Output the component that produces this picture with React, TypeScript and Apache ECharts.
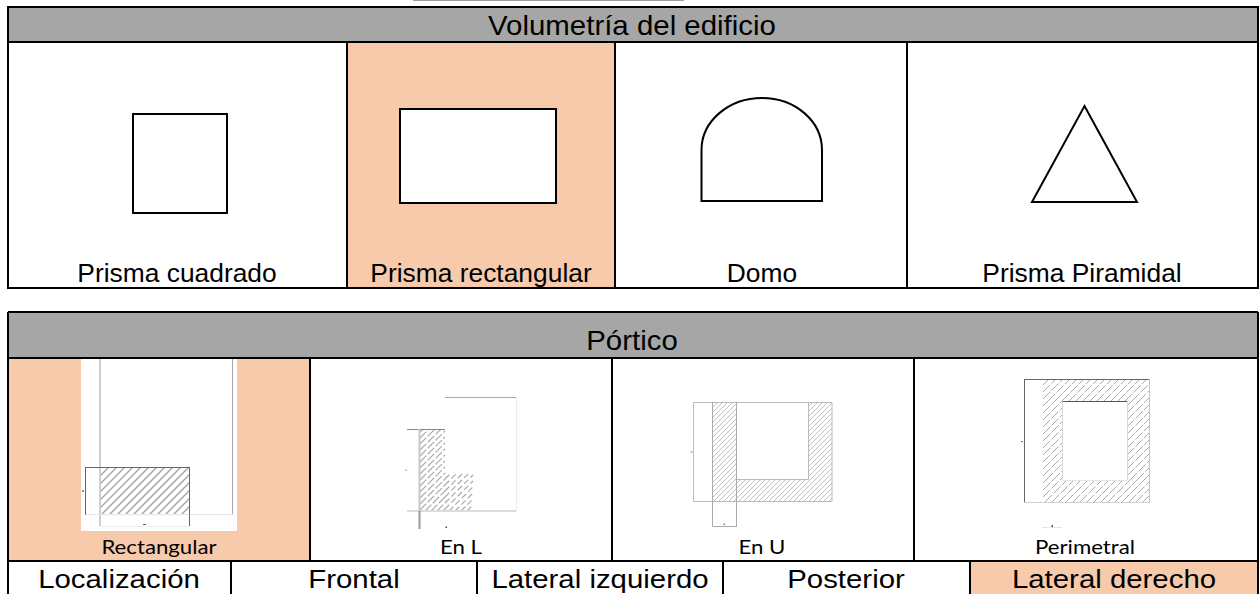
import React, { useEffect, useRef } from "react";
import * as echarts from "echarts";

const topTitle = "Volumetría del edificio";
const topLabels = ["Prisma cuadrado", "Prisma rectangular", "Domo", "Prisma Piramidal"];
const midTitle = "Pórtico";
const midLabels = ["Rectangular", "En L", "En U", "Perimetral"];
const locLabels = ["Localización", "Frontal", "Lateral izquierdo", "Posterior", "Lateral derecho"];

const GREY = "#a6a6a6";
const PEACH = "#f7caac";
const SANS = "'Liberation Sans', Arial, sans-serif";
const CAL = "Lato, 'Open Sans', sans-serif";

const rect = (x0: number, y0: number, x1: number, y1: number, fill: string, stroke = "none", lw = 0): any => ({
  type: "rect",
  shape: { x: x0, y: y0, width: x1 - x0, height: y1 - y0 },
  style: { fill, stroke, lineWidth: lw },
});
const line = (x1: number, y1: number, x2: number, y2: number, stroke: string, lw = 1, dash?: number[]): any => ({
  type: "line",
  shape: { x1, y1, x2, y2 },
  style: { stroke, lineWidth: lw, fill: "none", lineDash: dash },
});
const text = (s: string, x: number, y: number, size: number, family: string, sx = 1): any => ({
  type: "text",
  x,
  y,
  scaleX: sx,
  style: {
    text: s,
    x: 0,
    y: 0,
    fill: "#000",
    fontSize: size,
    fontFamily: family,
    textAlign: "center",
    textVerticalAlign: "middle",
  },
});
// 45 degree hatch clipped to a box, with a phase shared across neighbouring boxes
const hatch = (x0: number, y0: number, x1: number, y1: number, gap: number, stroke: string, lw = 1, dash?: number[]) => {
  const out: any[] = [];
  for (let c = Math.ceil((x0 + y0) / gap) * gap; c <= x1 + y1; c += gap) {
    const ax = Math.max(x0, c - y1);
    const bx = Math.min(x1, c - y0);
    if (bx > ax) out.push(line(ax, c - ax, bx, c - bx, stroke, lw, dash));
  }
  return out;
};

const T1 = { l: 8, r: 1258, t: 7, h: 42, b: 288, cols: [347, 615, 907] };
const T2 = { l: 8, r: 1258, t: 312, h: 358, b: 561, cols: [310, 612, 914], loc: [231, 477, 723, 970] };

function buildElements() {
  const e: any[] = [];
  e.push(rect(0, 0, 1259, 594, "#fff"));
  e.push(rect(413, 0, 684, 1, "#a0a0a0"));

  // top table
  e.push(rect(T1.l, T1.t, T1.r, T1.h, GREY));
  e.push(rect(T1.cols[0], T1.h, T1.cols[1], T1.b, PEACH));
  e.push(rect(133, 114, 227, 213, "#fff", "#000", 2));
  e.push(rect(400, 109, 556, 203, "#fff", "#000", 2));
  e.push({
    type: "bezierCurve",
    shape: { x1: 701.5, y1: 150, x2: 762, y2: 98, cpx1: 701.5, cpy1: 121, cpx2: 729, cpy2: 98 },
    style: { stroke: "#000", lineWidth: 2, fill: "none" },
  });
  e.push({
    type: "bezierCurve",
    shape: { x1: 762, y1: 98, x2: 822, y2: 150, cpx1: 795, cpy1: 98, cpx2: 822, cpy2: 121 },
    style: { stroke: "#000", lineWidth: 2, fill: "none" },
  });
  e.push({
    type: "polyline",
    shape: { points: [[701.5, 150], [701.5, 201], [822, 201], [822, 150]] },
    style: { stroke: "#000", lineWidth: 2, fill: "none" },
  });
  e.push({
    type: "polygon",
    shape: { points: [[1084.5, 106], [1137, 202], [1032, 202]] },
    style: { stroke: "#000", lineWidth: 2, fill: "#fff" },
  });
  e.push(rect(T1.l, T1.t, T1.r, T1.b, "none", "#000", 2));
  e.push(line(T1.l, T1.h, T1.r, T1.h, "#000", 2));
  T1.cols.forEach((x) => e.push(line(x, T1.h, x, T1.b, "#000", 2)));
  e.push(text(topTitle, 632, 25, 27, SANS, 1.09));
  const topX = [177, 481, 762, 1082];
  topLabels.forEach((s, i) => e.push(text(s, topX[i], 273, 25.5, SANS, 1.035)));

  // portico table
  e.push(rect(T2.l, T2.t, T2.r, T2.h, GREY));
  e.push(rect(T2.l, T2.h, T2.cols[0], T2.b, PEACH));
  e.push(rect(T2.loc[3], T2.b, T2.r, 594, PEACH));

  // rectangular sketch
  e.push(rect(81, 358, 237, 531, "#fff"));
  e.push(...hatch(100, 467, 190, 514, 8, "#a8a8a8", 1.5));
  e.push(line(100, 358, 100, 526, "#cfcfcf", 2));
  e.push(line(232.5, 358, 232.5, 514, "#a8a8a8", 1));
  e.push(line(85, 514.5, 233, 514.5, "#e6e6e6", 1));
  e.push(line(100, 526.5, 190, 526.5, "#eeeeee", 1));
  e.push(line(85, 467.5, 190, 467.5, "#666", 1));
  e.push(line(85.5, 467, 85.5, 515, "#666", 1));
  e.push(line(189.5, 467, 189.5, 526, "#666", 1));
  e.push(rect(82, 490, 84, 492, "#5b9bd5"));
  e.push(rect(143, 524, 146, 525, "#555"));

  // L sketch
  e.push(...hatch(420, 429, 445, 511, 6, "#aaaaaa", 1.2, [9, 2]));
  e.push(...hatch(445, 474, 473, 511, 6, "#aaaaaa", 1.2, [6, 3]));
  e.push(line(445, 397.5, 516, 397.5, "#a8a8a8", 1));
  e.push(line(516.5, 397, 516.5, 511, "#ececec", 1));
  e.push(line(407, 511, 516, 511, "#dcdcdc", 2));
  e.push(line(407, 429.5, 445, 429.5, "#888", 1));
  e.push(line(419.5, 429, 419.5, 511, "#c8c8c8", 2));
  e.push(line(419.5, 511, 419.5, 529, "#999", 2));
  e.push(rect(405.5, 469.5, 406.5, 471, "#777"));
  e.push(rect(445.5, 526.5, 447, 528, "#444"));

  // U sketch
  e.push(...hatch(713, 402, 737, 502, 5, "#c0c0c0", 1));
  e.push(...hatch(808, 402, 832, 502, 5, "#c0c0c0", 1));
  e.push(...hatch(737, 479, 808, 502, 5, "#c0c0c0", 1));
  e.push(rect(693.5, 402.5, 832, 501.5, "none", "#bbbbbb", 1));
  e.push(line(712.5, 402, 712.5, 526, "#aaaaaa", 1));
  e.push(line(736.5, 402, 736.5, 526, "#aaaaaa", 1));
  e.push(line(712.5, 526.5, 737, 526.5, "#aaaaaa", 1));
  e.push(line(737, 479.5, 808, 479.5, "#bbbbbb", 1));
  e.push(line(808.5, 402, 808.5, 480, "#bbbbbb", 1));
  e.push(rect(690.5, 451.5, 692.5, 452.5, "#777"));
  e.push(rect(723.5, 523.5, 725, 525, "#777"));

  // perimetral sketch
  const hd = [10, 2];
  e.push(...hatch(1043, 379, 1149, 401, 7, "#aaaaaa", 1, hd));
  e.push(...hatch(1043, 480, 1149, 502, 7, "#aaaaaa", 1, hd));
  e.push(...hatch(1043, 401, 1063, 480, 7, "#aaaaaa", 1, hd));
  e.push(...hatch(1127, 401, 1149, 480, 7, "#aaaaaa", 1, hd));
  e.push(line(1024, 379.5, 1149, 379.5, "#666", 1));
  e.push(line(1024.5, 379, 1024.5, 502, "#666", 1));
  e.push(line(1024, 502.5, 1149, 502.5, "#d0d0d0", 1));
  e.push(line(1149.5, 379, 1149.5, 503, "#c4c4c4", 1));
  e.push(line(1063, 401.5, 1127, 401.5, "#555", 1));
  e.push(line(1062.5, 401, 1062.5, 480, "#d8d8d8", 1));
  e.push(line(1063, 480.5, 1127, 480.5, "#e4e4e4", 1));
  e.push(line(1127.5, 401, 1127.5, 480, "#d8d8d8", 1));
  e.push(rect(1021, 441, 1023, 442, "#777"));
  e.push(line(1042, 527.5, 1062, 527.5, "#e6e6e6", 1));
  e.push(rect(1051.5, 525, 1053, 527, "#664444"));

  // portico grid
  e.push(line(T2.l, T2.t, T2.r, T2.t, "#000", 2));
  e.push(line(T2.l, T2.t, T2.l, 594, "#000", 2));
  e.push(line(T2.r, T2.t, T2.r, 594, "#000", 2));
  e.push(line(T2.l, T2.h, T2.r, T2.h, "#000", 2));
  e.push(line(T2.l, T2.b, T2.r, T2.b, "#000", 2));
  T2.cols.forEach((x) => e.push(line(x, T2.h, x, T2.b, "#000", 2)));
  T2.loc.forEach((x) => e.push(line(x, T2.b, x, 594, "#000", 2)));

  e.push(text(midTitle, 632, 340, 27, SANS, 1.09));
  const midX = [159, 461, 762, 1085];
  midLabels.forEach((s, i) => e.push(text(s, midX[i], 546.5, 19.5, CAL, 1.14)));
  const locX = [119, 354, 600, 846, 1114];
  locLabels.forEach((s, i) => e.push(text(s, locX[i], 579, 26, SANS, 1.13)));
  return e;
}

export default function App() {
  const ref = useRef<HTMLDivElement>(null);
  useEffect(() => {
    document.body.style.margin = "0";
    const chart = echarts.init(ref.current!, undefined, { renderer: "svg" });
    chart.setOption({ animation: false, graphic: { elements: buildElements() } });
    return () => chart.dispose();
  }, []);
  return <div ref={ref} style={{ width: 1259, height: 594 }} />;
}
